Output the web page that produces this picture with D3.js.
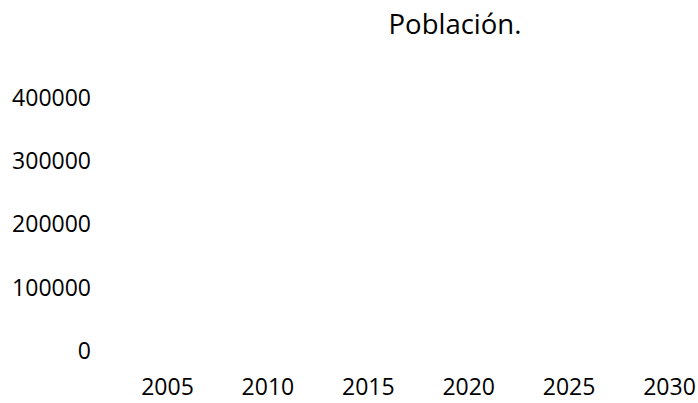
<!DOCTYPE html>
<html>
<head>
<meta charset="utf-8">
<script src="https://cdn.jsdelivr.net/npm/d3@7"></script>
<style>
  body { margin:0; background:#fff; }
  text { font-family:"Open Sans", sans-serif; fill:#000; }
</style>
</head>
<body>
<script>
// the chart has axes only, no visible series
var titulo = "Población.";
var anios = [2005, 2010, 2015, 2020, 2025, 2030];
var yTicks = [0, 100000, 200000, 300000, 400000];
var poblacion = [];

var drawChart = function(width, height)
{
    var margins = {top:98, bottom:52, left:91, right:29};

    var svg = d3.select("body")
        .append("svg")
            .attr("width", width)
            .attr("height", height);

    var x = d3.scaleLinear()
        .domain([2005, 2030])
        .range([167, width - margins.right]);

    var y = d3.scaleLinear()
        .domain([0, 400000])
        .range([height - margins.bottom, margins.top]);

    svg.append("text")
        .attr("x", 455)
        .attr("y", 34)
        .attr("text-anchor", "middle")
        .style("font-size", "27.5px")
        .text(titulo);

    var yAxis = svg.append("g")
        .attr("transform", "translate(" + margins.left + ",0)")
        .call(d3.axisLeft(y).tickValues(yTicks).tickSize(0).tickPadding(0).tickFormat(d3.format("d")));
    yAxis.select(".domain").remove();
    yAxis.selectAll("text").style("font-size", "23px").attr("font-family", null);

    // keep the year labels inside the bottom edge
    var xAxis = svg.append("g")
        .attr("transform", "translate(0," + (height - 15) + ")")
        .call(d3.axisBottom(x).tickValues(anios).tickSize(0).tickPadding(0).tickFormat(d3.format("d")));
    xAxis.select(".domain").remove();
    xAxis.selectAll("text").style("font-size", "23px").attr("dy", "0.32em").attr("font-family", null);

    var line = d3.line()
        .x(function(d){ return x(d.anio); })
        .y(function(d){ return y(d.valor); });

    svg.append("path")
        .datum(poblacion)
        .attr("fill", "none")
        .attr("stroke", "#4472c4")
        .attr("d", line);
}

drawChart(698, 403);
</script>
</body>
</html>
